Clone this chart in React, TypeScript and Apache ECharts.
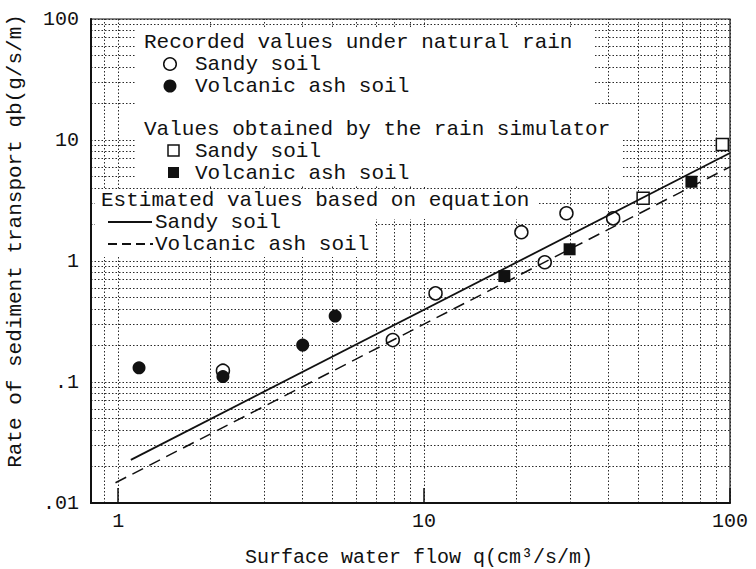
import React, { useEffect, useRef } from 'react';
import * as echarts from 'echarts';

// Recorded values under natural rain
const sandyNaturalQ = [2.2, 7.9, 10.9, 20.8, 24.8, 29.2, 41.5];
const sandyNaturalQb = [0.124, 0.222, 0.54, 1.73, 0.976, 2.48, 2.25];
const volcanicNaturalQ = [1.17, 2.2, 4.01, 5.12];
const volcanicNaturalQb = [0.131, 0.111, 0.202, 0.351];

// Values obtained by the rain simulator
const sandySimQ = [52.0, 94.4];
const sandySimQb = [3.3, 9.2];
const volcanicSimQ = [18.3, 29.9, 74.8];
const volcanicSimQb = [0.751, 1.25, 4.52];

// Estimated values based on equation (end points of the fitted lines)
const sandyEqQ = [1.1, 100];
const sandyEqQb = [0.0227, 7.8];
const volcanicEqQ = [0.98, 100];
const volcanicEqQb = [0.0147, 6.0];

// Axis tick labels (by decade exponent)
const xTickLabels: Record<string, string> = { '0': '1', '1': '10', '2': '100' };
const yTickLabels: Record<string, string> = { '-2': '.01', '-1': '.1', '0': '1', '1': '10', '2': '100' };

// Minor grid values
const xMinor = [0.9, 2, 3, 4, 5, 6, 7, 8, 9, 20, 30, 40, 50, 60, 70, 80, 90];
const yMinor = [
  0.02, 0.03, 0.04, 0.05, 0.06, 0.07, 0.08, 0.09,
  0.2, 0.3, 0.4, 0.5, 0.6, 0.7, 0.8, 0.9,
  2, 3, 4, 5, 6, 7, 8, 9,
  20, 30, 40, 50, 60, 70, 80, 90,
];

const FONT = '"Liberation Mono", "DejaVu Sans Mono", monospace';
const INK = '#111';
const GRID = '#2a2a2a';
const DOT = [1.5, 2];

const zip = (a: number[], b: number[]) => a.map((v, i) => [v, b[i]]);

export default function App() {
  const ref = useRef<HTMLDivElement>(null);
  useEffect(() => {
    const chart = echarts.init(ref.current!, null, { renderer: 'svg' });
    const txt = (text: string, x: number, y: number, extra: any = {}) => ({
      type: 'text',
      x,
      y,
      z: 10,
      silent: true,
      style: {
        text,
        fill: INK,
        fontSize: 21,
        fontFamily: FONT,
        align: 'left',
        verticalAlign: 'middle',
        ...extra,
      },
    });
    const option: any = {
      animation: false,
      backgroundColor: '#fff',
      grid: {
        left: 91,
        right: 26,
        top: 19,
        bottom: 66,
        show: true,
        borderColor: INK,
        borderWidth: 1.2,
        backgroundColor: 'transparent',
      },
      xAxis: {
        type: 'log',
        logBase: 10,
        min: 0.815,
        max: 100,
        axisLine: { show: true, lineStyle: { color: INK, width: 2 } },
        axisTick: { show: true, inside: true, length: 15, lineStyle: { color: INK, width: 1.5 } },
        axisLabel: {
          showMinLabel: false,
          margin: 8,
          color: INK,
          fontSize: 20,
          fontFamily: FONT,
          formatter: (v: number) => xTickLabels[String(Math.round(Math.log10(v)))] ?? '',
        },
        splitLine: { show: true, lineStyle: { color: GRID, width: 1, type: DOT } },
      },
      yAxis: {
        type: 'log',
        logBase: 10,
        min: 0.01,
        max: 100,
        axisLine: { show: true, lineStyle: { color: INK, width: 2 } },
        axisTick: { show: false },
        axisLabel: {
          margin: 12,
          color: INK,
          fontSize: 20,
          fontFamily: FONT,
          formatter: (v: number) => yTickLabels[String(Math.round(Math.log10(v)))] ?? '',
        },
        splitLine: { show: true, lineStyle: { color: GRID, width: 1, type: DOT } },
      },
      series: [
        {
          name: 'minor-grid',
          type: 'line',
          data: [],
          silent: true,
          z: 0,
          symbol: 'none',
          markLine: {
            z: 0,
            silent: true,
            symbol: ['none', 'none'],
            label: { show: false },
            lineStyle: { color: GRID, width: 1, type: DOT },
            emphasis: { disabled: true },
            data: [
              ...xMinor.map((v) => ({ xAxis: v })),
              ...yMinor.map((v) => ({ yAxis: v })),
            ],
          },
        },
        {
          name: 'Sandy soil (natural rain)',
          type: 'scatter',
          z: 3,
          symbol: 'circle',
          symbolSize: 13,
          itemStyle: { color: '#fff', borderColor: INK, borderWidth: 1.5, opacity: 1 },
          data: zip(sandyNaturalQ, sandyNaturalQb),
        },
        {
          name: 'Volcanic ash soil (natural rain)',
          type: 'scatter',
          z: 3,
          symbol: 'circle',
          symbolSize: 13,
          itemStyle: { color: INK, opacity: 1 },
          data: zip(volcanicNaturalQ, volcanicNaturalQb),
        },
        {
          name: 'Sandy soil (simulator)',
          type: 'scatter',
          z: 3,
          symbol: 'rect',
          symbolSize: 12,
          itemStyle: { color: '#fff', borderColor: INK, borderWidth: 1.5, opacity: 1 },
          data: zip(sandySimQ, sandySimQb),
        },
        {
          name: 'Volcanic ash soil (simulator)',
          type: 'scatter',
          z: 3,
          symbol: 'rect',
          symbolSize: 12,
          itemStyle: { color: INK, opacity: 1 },
          data: zip(volcanicSimQ, volcanicSimQb),
        },
        {
          name: 'Sandy soil (equation)',
          type: 'line',
          z: 4,
          showSymbol: false,
          symbol: 'none',
          lineStyle: { color: INK, width: 1.8 },
          data: zip(sandyEqQ, sandyEqQb),
        },
        {
          name: 'Volcanic ash soil (equation)',
          type: 'line',
          z: 4,
          showSymbol: false,
          symbol: 'none',
          lineStyle: { color: INK, width: 1.5, type: [12, 7] },
          data: zip(volcanicEqQ, volcanicEqQb),
        },
      ],
      graphic: {
        elements: [
          {
            type: 'polygon',
            z: 1,
            silent: true,
            shape: { points: [[135, 27], [593, 27], [593, 105], [622, 105], [622, 186], [135, 186]] },
            style: { fill: '#fff' },
          },
          {
            type: 'polygon',
            z: 1,
            silent: true,
            shape: { points: [[95, 190], [537, 190], [537, 219], [375, 219], [375, 257], [95, 257]] },
            style: { fill: '#fff' },
          },
          txt('Recorded values under natural rain', 144, 42),
          { type: 'circle', z: 10, silent: true, shape: { cx: 170, cy: 64, r: 6.3 }, style: { fill: '#fff', stroke: INK, lineWidth: 1.5 } },
          txt('Sandy soil', 195, 64),
          { type: 'circle', z: 10, silent: true, shape: { cx: 170, cy: 86, r: 6.5 }, style: { fill: INK } },
          txt('Volcanic ash soil', 195, 86),
          txt('Values obtained by the rain simulator', 144, 129),
          { type: 'rect', z: 10, silent: true, shape: { x: 168, y: 145, width: 11, height: 11 }, style: { fill: '#fff', stroke: INK, lineWidth: 1.5 } },
          txt('Sandy soil', 195, 151),
          { type: 'rect', z: 10, silent: true, shape: { x: 168, y: 167, width: 11, height: 11 }, style: { fill: INK } },
          txt('Volcanic ash soil', 195, 173),
          txt('Estimated values based on equation', 101, 200),
          { type: 'line', z: 10, silent: true, shape: { x1: 108, y1: 222, x2: 152, y2: 222 }, style: { stroke: INK, lineWidth: 1.8 } },
          txt('Sandy soil', 155, 222),
          { type: 'line', z: 10, silent: true, shape: { x1: 108, y1: 244, x2: 153, y2: 244 }, style: { stroke: INK, lineWidth: 1.8, lineDash: [9, 5] } },
          txt('Volcanic ash soil', 155, 244),
          {
            type: 'text',
            z: 10,
            silent: true,
            x: 15,
            y: 241,
            rotation: Math.PI / 2,
            style: {
              text: 'Rate of sediment transport qb(g/s/m)',
              fill: INK,
              fontSize: 21,
              fontFamily: FONT,
              align: 'center',
              verticalAlign: 'middle',
            },
          },
          txt('Surface water flow q(cm³/s/m)', 419, 557, { align: 'center', fontSize: 20 }),
        ],
      },
    };
    chart.setOption(option);
    return () => chart.dispose();
  }, []);
  return <div ref={ref} style={{ position: 'fixed', left: 0, top: 0, width: 756, height: 569 }} />;
}
